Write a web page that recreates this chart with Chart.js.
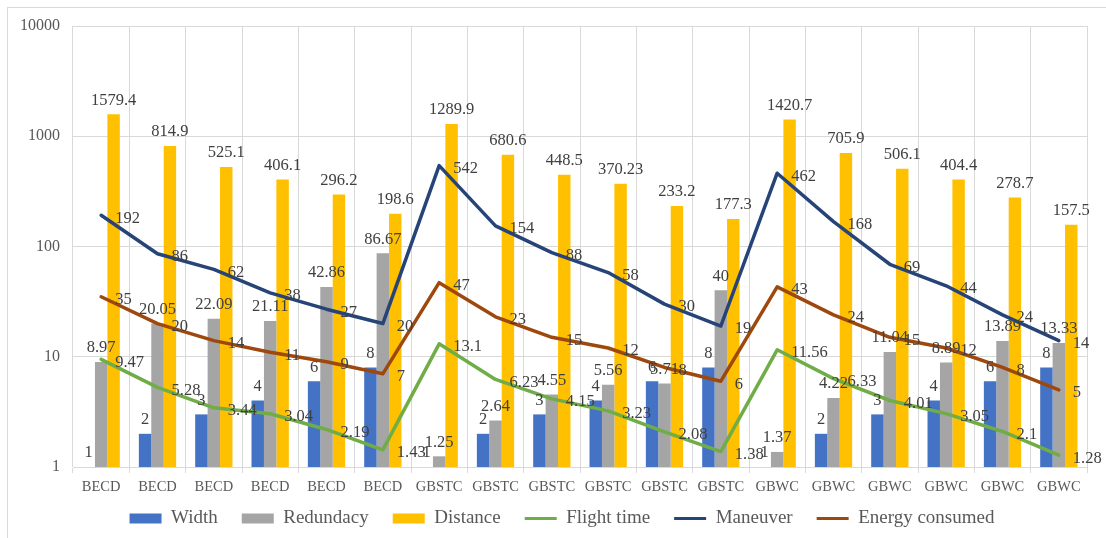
<!DOCTYPE html>
<html>
<head>
<meta charset="utf-8">
<script src="https://cdn.jsdelivr.net/npm/chart.js@4.4.1/dist/chart.umd.min.js"></script>
<style>
  html, body { margin: 0; padding: 0; background: #ffffff; }
  #wrap { position: relative; width: 1106px; height: 538px; overflow: hidden; }
  #frame { position: absolute; left: 7px; top: 7px; width: 1200px; height: 600px;
           border-left: 1px solid #d9d9d9; border-top: 1px solid #d9d9d9; box-sizing: border-box; }
  canvas { position: absolute; left: 0; top: 0; }
</style>
</head>
<body>
<div id="wrap">
  <div id="frame"></div>
  <canvas id="chart" width="1106" height="538"></canvas>
</div>
<script>
// Categories (three methods, six configurations each)
const categories = [
  'BECD', 'BECD', 'BECD', 'BECD', 'BECD', 'BECD',
  'GBSTC', 'GBSTC', 'GBSTC', 'GBSTC', 'GBSTC', 'GBSTC',
  'GBWC', 'GBWC', 'GBWC', 'GBWC', 'GBWC', 'GBWC'
];

// Bar series
const widthValues = [1, 2, 3, 4, 6, 8, 1, 2, 3, 4, 6, 8, 1, 2, 3, 4, 6, 8];
const redundacyValues = [8.97, 20.05, 22.09, 21.11, 42.86, 86.67, 1.25, 2.64, 4.55, 5.56, 5.71, 40, 1.37, 4.22, 11.04, 8.89, 13.89, 13.33];
const distanceValues = [1579.4, 814.9, 525.1, 406.1, 296.2, 198.6, 1289.9, 680.6, 448.5, 370.23, 233.2, 177.3, 1420.7, 705.9, 506.1, 404.4, 278.7, 157.5];

// Line series
const flightTimeValues = [9.47, 5.28, 3.44, 3.04, 2.19, 1.43, 13.1, 6.23, 4.15, 3.23, 2.08, 1.38, 11.56, 6.33, 4.01, 3.05, 2.1, 1.28];
const maneuverValues = [192, 86, 62, 38, 27, 20, 542, 154, 88, 58, 30, 19, 462, 168, 69, 44, 24, 14];
const energyValues = [35, 20, 14, 11, 9, 7, 47, 23, 15, 12, 8, 6, 43, 24, 15, 12, 8, 5];

// Y axis tick labels (log decades)
const yTicks = [1, 10, 100, 1000, 10000];

const SERIF = '"Liberation Serif", "Times New Roman", serif';

// Writes each point's value next to it: above bars, to the right of line points
const valueLabels = {
  id: 'valueLabels',
  afterDatasetsDraw(chart) {
    const ctx = chart.ctx;
    ctx.save();
    ctx.font = '16.5px ' + SERIF;
    ctx.fillStyle = '#404040';
    ctx.textBaseline = 'middle';
    chart.data.datasets.forEach((ds, i) => {
      const meta = chart.getDatasetMeta(i);
      meta.data.forEach((el, j) => {
        const text = String(ds.data[j]);
        if (ds.type === 'line') {
          ctx.textAlign = 'left';
          ctx.fillText(text, el.x + 14, el.y + 3);
        } else {
          ctx.textAlign = 'center';
          ctx.fillText(text, el.x, el.y - 14);
        }
      });
    });
    ctx.restore();
  }
};

// Pulls the legend row closer to the category labels and centres it under the plot
const legendLift = {
  id: 'legendLift',
  afterLayout(chart) {
    if (chart.legend) {
      chart.legend.top -= 10;
      chart.legend.bottom -= 10;
      chart.legend.left += 15;
      chart.legend.right += 15;
    }
  }
};

const barDs = (label, data, color) => ({
  type: 'bar', label, data, backgroundColor: color, borderWidth: 0,
  categoryPercentage: 0.662, barPercentage: 1, order: 2
});
const lineDs = (label, data, color) => ({
  type: 'line', label, data, borderColor: color, backgroundColor: color,
  borderWidth: 3.5, pointRadius: 0, tension: 0, borderJoinStyle: 'round',
  borderCapStyle: 'round', fill: false, order: 1
});

new Chart(document.getElementById('chart'), {
  data: {
    labels: categories,
    datasets: [
      barDs('Width', widthValues, '#4472C4'),
      barDs('Redundacy', redundacyValues, '#A5A5A5'),
      barDs('Distance', distanceValues, '#FFC000'),
      lineDs('Flight time', flightTimeValues, '#70AD47'),
      lineDs('Maneuver', maneuverValues, '#264478'),
      lineDs('Energy consumed', energyValues, '#9E480E')
    ]
  },
  options: {
    responsive: false,
    animation: false,
    layout: { padding: { left: 7, top: 26, right: 19, bottom: -10 } },
    plugins: {
      tooltip: { enabled: false },
      legend: {
        position: 'bottom',
        labels: {
          font: { family: SERIF, size: 19 },
          color: '#595959',
          usePointStyle: true,
          pointStyleWidth: 32,
          boxHeight: 10,
          padding: 24,
          sort: (a, b) => a.datasetIndex - b.datasetIndex,
          generateLabels(chart) {
            return chart.data.datasets.map((ds, i) => ({
              text: ds.label,
              fillStyle: ds.type === 'line' ? ds.borderColor : ds.backgroundColor,
              strokeStyle: ds.type === 'line' ? ds.borderColor : ds.backgroundColor,
              lineWidth: ds.type === 'line' ? 3 : 0,
              pointStyle: ds.type === 'line' ? 'line' : 'rect',
              fontColor: '#595959',
              datasetIndex: i,
              hidden: false
            }));
          }
        }
      }
    },
    scales: {
      x: {
        grid: { color: '#d9d9d9', lineWidth: 1, offset: true, tickLength: 6, drawTicks: true },
        border: { color: '#d9d9d9' },
        ticks: { font: { family: SERIF, size: 14.5 }, color: '#595959', padding: 5, maxRotation: 0, autoSkip: false },
        afterFit(scale) { scale.height = 28; }
      },
      y: {
        type: 'logarithmic',
        min: 1,
        max: 10000,
        grid: { color: '#d9d9d9', lineWidth: 1, drawTicks: false },
        border: { display: false },
        ticks: {
          font: { family: SERIF, size: 16 },
          color: '#595959',
          padding: 13,
          callback: (v) => String(v)
        },
        afterBuildTicks(scale) { scale.ticks = yTicks.map(v => ({ value: v })); },
        afterFit(scale) { scale.width = 66; }
      }
    }
  },
  plugins: [valueLabels, legendLift]
});
</script>
</body>
</html>
